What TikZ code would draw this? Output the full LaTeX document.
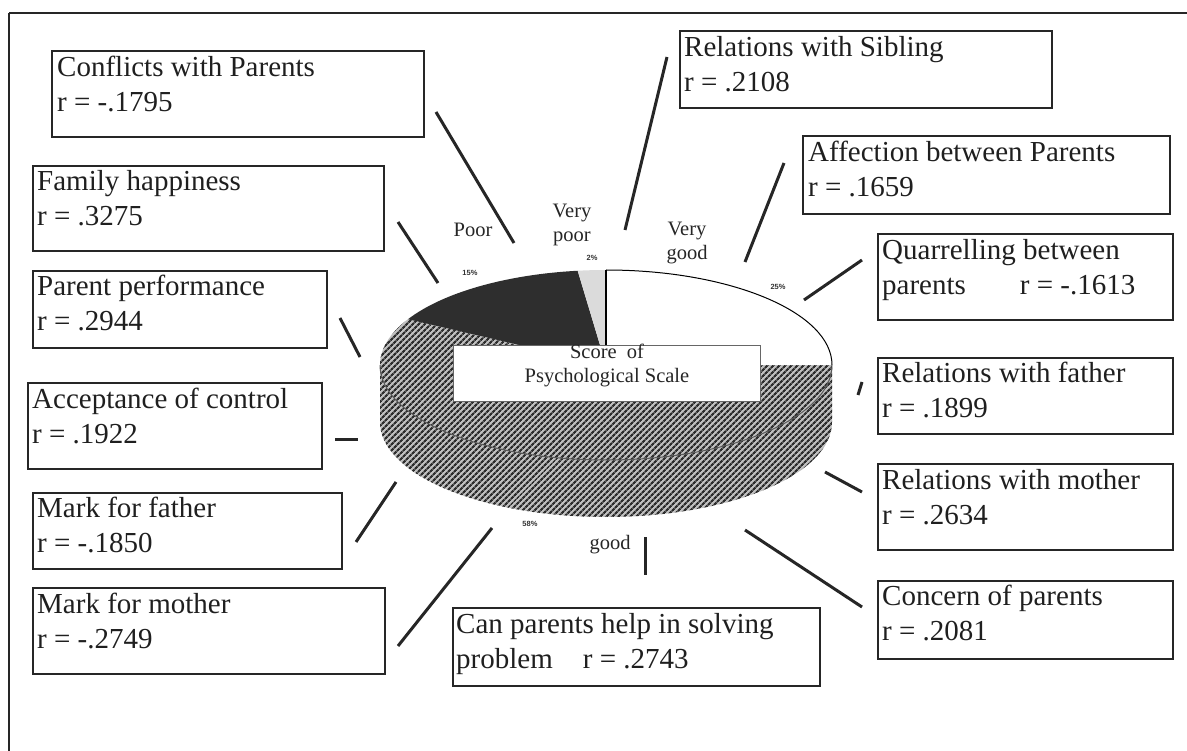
\documentclass[tikz,border=0pt]{standalone}
\usepackage{fontspec}
\setmainfont{Liberation Serif}
\newfontfamily\pctfont{Liberation Sans}
\usetikzlibrary{patterns.meta,calc}
\begin{document}
\begin{tikzpicture}[x=1pt,y=-1pt,
  box/.style={draw=black!85, line width=2.4pt, anchor=north west, inner sep=0pt},
  btext/.style={anchor=north west, inner sep=0pt, align=left, font=\fontsize{29}{35}\selectfont, text=black!88},
  link/.style={draw=black!85, line width=3pt},
  lbl/.style={font=\fontsize{20.5}{24}\selectfont, text=black!85, align=center, inner sep=0pt},
  pct/.style={font=\pctfont\bfseries\fontsize{7.5}{8}\selectfont, text=black!80, inner sep=0pt},
  hatch/.style={fill=black!25, postaction={pattern={Lines[angle=45,distance=4pt,line width=2.2pt]}, pattern color=black!82}},
  ell/.style={x radius=226pt, y radius=95pt}
]
\useasboundingbox (0,0) rectangle (1187,751);
% frame
\draw[line width=2pt, black!85] (9,13) -- (1187,13);
\draw[line width=2pt, black!85] (9,13) -- (9,751);

% ---------- pie ----------
\coordinate (C) at (606,365);
\path[hatch] ($(C)+(180:226pt and 95pt)$) -- ++(0,57)
  arc[start angle=180,end angle=360,ell] -- ++(0,-57)
  arc[start angle=0,end angle=-180,ell] -- cycle;
\path[hatch] (C) -- ($(C)+(0:226pt and 95pt)$) arc[start angle=0,end angle=-208.8,ell] -- cycle;
\path[fill=white] (C) -- ($(C)+(90:226pt and 95pt)$) arc[start angle=90,end angle=0,ell] -- cycle;
\path[fill=black!82] (C) -- ($(C)+(151.2:226pt and 95pt)$) arc[start angle=151.2,end angle=97.2,ell] -- cycle;
\path[fill=black!14] (C) -- ($(C)+(97.2:226pt and 95pt)$) arc[start angle=97.2,end angle=90,ell] -- cycle;
\draw[line width=1pt] ($(C)+(90:226pt and 95pt)$) arc[start angle=90,end angle=0,ell];
\draw[line width=1.2pt] (C) -- ($(C)+(90:226pt and 95pt)$);
\draw[black!65, line width=1pt] ($(C)+(180:226pt and 95pt)$) arc[start angle=180,end angle=360,ell];

\node[draw=black!60, line width=0.8pt, fill=white, minimum width=307pt, minimum height=56pt, anchor=north west, inner sep=0pt] (score) at (453,345) {};
\node[lbl] (scoreT) at (607,365) {Score\ \ of\\Psychological Scale};

\node[lbl] (poor) at (473,230) {Poor};
\node[lbl] (vpoor) at (572,225) {Very\\poor};
\node[lbl] (vgood) at (687,243) {Very\\good};
\node[lbl] (good) at (610,545) {good};
\node[pct] (p15) at (470,273) {15\%};
\node[pct] (p2) at (592,258) {2\%};
\node[pct] (p25) at (778,287) {25\%};
\node[pct] (p58) at (530,524) {58\%};

% ---------- boxes ----------
\node[box, minimum width=372pt, minimum height=86pt] (conf) at (51,50) {};
\node[btext] (confT) at (57,56) {Conflicts with Parents\\r = -.1795};
\node[box, minimum width=351pt, minimum height=85pt] (fam) at (32,165) {};
\node[btext] (famT) at (37,170) {Family happiness\\r = .3275};
\node[box, minimum width=294pt, minimum height=77pt] (par) at (32,270) {};
\node[btext] (parT) at (37,275) {Parent performance\\r = .2944};
\node[box, minimum width=294pt, minimum height=86pt] (acc) at (27,382) {};
\node[btext] (accT) at (32,388) {Acceptance of control\\r = .1922};
\node[box, minimum width=309pt, minimum height=76pt] (mfa) at (32,492) {};
\node[btext] (mfaT) at (37,497) {Mark for father\\r = -.1850};
\node[box, minimum width=352pt, minimum height=86pt] (mmo) at (32,587) {};
\node[btext] (mmoT) at (37,593) {Mark for mother\\r = -.2749};
\node[box, minimum width=367pt, minimum height=78pt] (cph) at (452,607) {};
\node[btext] (cphT) at (456,613) {Can parents help in solving\\problem\hspace{30pt}r = .2743};

\node[box, minimum width=372pt, minimum height=77pt] (sib) at (679,30) {};
\node[btext] (sibT) at (684,36) {Relations with Sibling\\r = .2108};
\node[box, minimum width=367pt, minimum height=78pt] (aff) at (802,135) {};
\node[btext] (affT) at (808,141) {Affection between Parents\\r = .1659};
\node[box, minimum width=295pt, minimum height=86pt] (qua) at (877,233) {};
\node[btext] (quaT) at (882,239) {Quarrelling between\\parents\hspace{54pt}r = -.1613};
\node[box, minimum width=295pt, minimum height=76pt] (rfa) at (877,357) {};
\node[btext] (rfaT) at (882,362) {Relations with father\\r = .1899};
\node[box, minimum width=295pt, minimum height=86pt] (rmo) at (877,463) {};
\node[btext] (rmoT) at (882,469) {Relations with mother\\r = .2634};
\node[box, minimum width=295pt, minimum height=78pt] (con) at (877,580) {};
\node[btext] (conT) at (882,585) {Concern of parents\\r = .2081};

% ---------- connectors ----------
\coordinate (l1a) at (436,112); \coordinate (l1b) at (514,243);
\coordinate (l2a) at (398,222); \coordinate (l2b) at (438,283);
\coordinate (l3a) at (340,318); \coordinate (l3b) at (360,357);
\coordinate (l4a) at (335,440); \coordinate (l4b) at (358,440);
\coordinate (l5a) at (396,482); \coordinate (l5b) at (356,542);
\coordinate (l6a) at (492,528); \coordinate (l6b) at (398,646);
\coordinate (l7a) at (645,537); \coordinate (l7b) at (645,575);
\coordinate (l8a) at (745,530); \coordinate (l8b) at (862,607);
\coordinate (l9a) at (825,472); \coordinate (l9b) at (862,492);
\coordinate (l10a) at (862,382); \coordinate (l10b) at (858,395);
\coordinate (l11a) at (862,260); \coordinate (l11b) at (804,300);
\coordinate (l12a) at (784,163); \coordinate (l12b) at (745,262);
\coordinate (l13a) at (667,57); \coordinate (l13b) at (625,230);
\foreach \i in {1,...,13}{\draw[link] (l\i a) -- (l\i b);}
\end{tikzpicture}
\end{document}
